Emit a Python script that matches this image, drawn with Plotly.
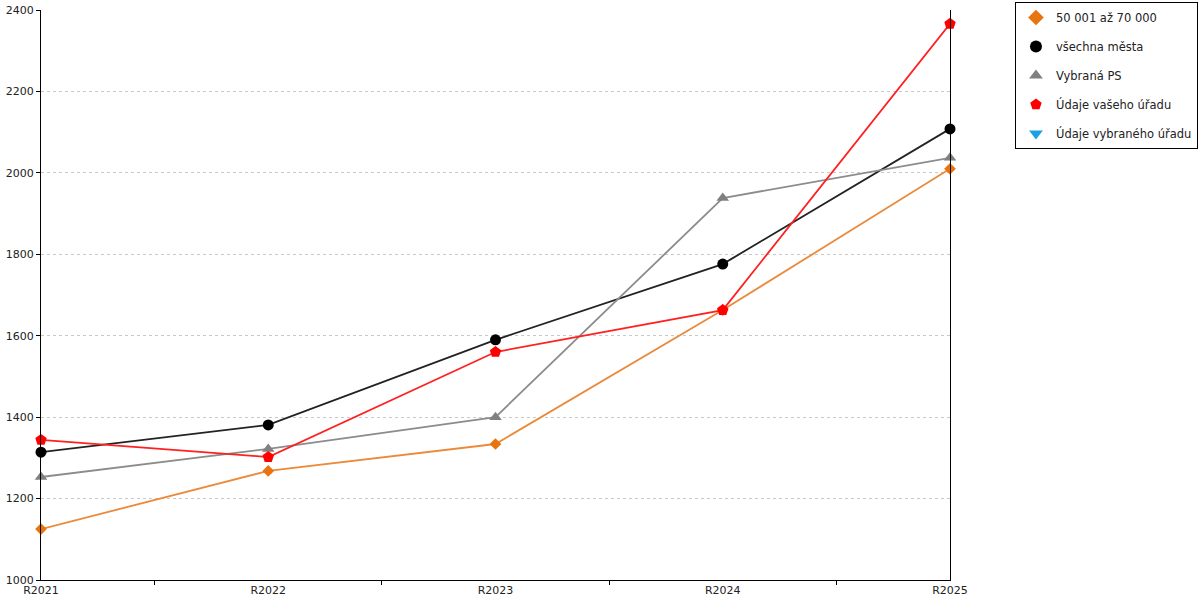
import plotly.graph_objects as go

years = ["R2021", "R2022", "R2023", "R2024", "R2025"]

mesta_50_70 = [1125, 1268, 1334, 1663, 2010]
vsechna_mesta = [1314, 1381, 1590, 1776, 2108]
vybrana_ps = [1253, 1322, 1400, 1938, 2037]
vas_urad = [1344, 1302, 1560, 1663, 2366]
vybrany_urad = [None, None, None, None, None]

names = ["50 001 až 70 000", "všechna města", "Vybraná PS",
         "Údaje vašeho úřadu", "Údaje vybraného úřadu"]
series = [mesta_50_70, vsechna_mesta, vybrana_ps, vas_urad, vybrany_urad]
colors = ["#e8730f", "#000000", "#808080", "#ff0000", "#1ba1e2"]
line_colors = ["#ea8a3a", "#222222", "#8c8c8c", "#ff2020", "#1ba1e2"]
symbols = ["diamond", "circle", "triangle-up", "pentagon", "triangle-down"]
sizes = [9, 11, 11, 12, 10]

fig = go.Figure()
for i, (nm, ys) in enumerate(zip(names, series)):
    # the actual line + markers
    fig.add_trace(go.Scatter(
        x=years, y=ys, mode="lines+markers", name=nm, showlegend=False,
        legendgroup=str(i),
        line=dict(color=line_colors[i], width=1.8),
        marker=dict(color=colors[i], symbol=symbols[i], size=sizes[i]),
        cliponaxis=False,
    ))
    # legend shows only the marker
    fig.add_trace(go.Scatter(
        x=[None], y=[None], mode="markers", name=nm, legendgroup=str(i),
        marker=dict(color=colors[i], symbol=symbols[i], size=12),
    ))

fig.update_layout(
    width=1200, height=600,
    margin=dict(l=41, r=250, t=10, b=20, autoexpand=False),
    plot_bgcolor="white", paper_bgcolor="white",
    font=dict(family="DejaVu Sans", size=11, color="#222"),
    legend=dict(
        xref="container", yref="container",
        x=0.9983, y=0.9967, xanchor="right", yanchor="top",
        bordercolor="black", borderwidth=1,
        font=dict(size=11.5, color="#222"),
        tracegroupgap=10, itemwidth=30,
    ),
    xaxis=dict(
        type="category", range=[0, 4], showgrid=False, automargin=False,
        showline=True, linecolor="black", linewidth=1,
        ticks="outside", ticklen=4, tickcolor="black", tickson="boundaries",
        tickfont=dict(size=11),
    ),
    yaxis=dict(
        range=[1000, 2400], dtick=200, showgrid=True, automargin=False,
        gridcolor="#c8c8c8", griddash="dot", gridwidth=1,
        showline=True, linecolor="black", linewidth=1, mirror=True,
        ticks="outside", ticklen=4, tickcolor="black",
        zeroline=False, tickfont=dict(size=11),
    ),
)

fig.write_html("out.html", config={"displayModeBar": False},
               post_script="document.body.style.margin='0';")
